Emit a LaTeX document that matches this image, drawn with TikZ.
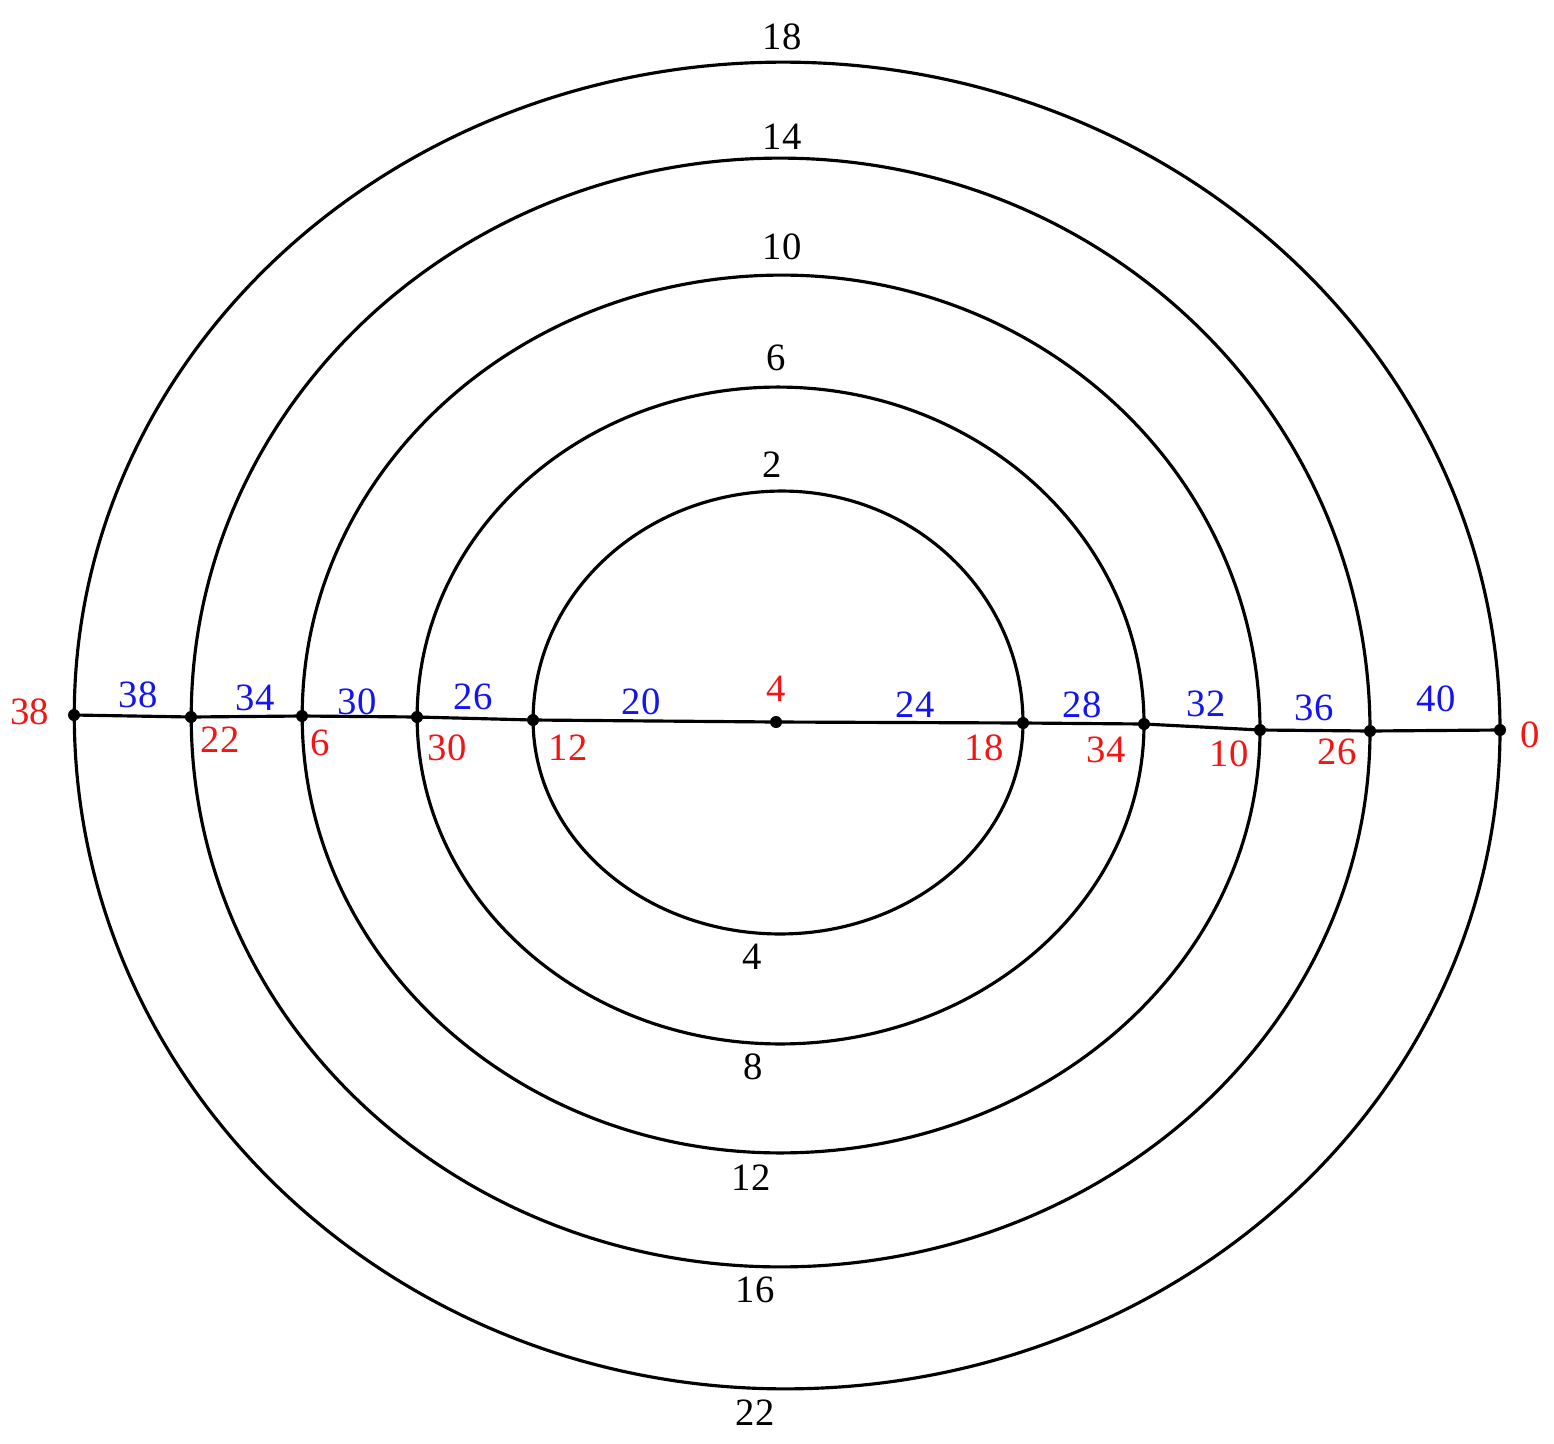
\documentclass[tikz,border=0pt]{standalone}
\usepackage{fontspec}
\setmainfont{Liberation Serif}
\definecolor{lblblue}{RGB}{20,20,240}
\definecolor{lblred}{RGB}{245,20,20}
\begin{document}
\begin{tikzpicture}[x=0.02cm,y=-0.02cm,
  ring/.style={line width=1.8pt},
  axisline/.style={line width=1.8pt},
  dotmark/.style={circle,fill=black,inner sep=0pt,minimum size=0.24cm},
  lbl/.style={inner sep=0pt,font=\fontsize{22}{26}\selectfont},
  blk/.style={lbl,text=black},
  blu/.style={lbl,text=lblblue},
  rd/.style={lbl,text=lblred}]
\useasboundingbox (0,0) rectangle (1554,1443);
% points on the axis
\coordinate (P1) at (74,715);
\coordinate (P2) at (191,717);
\coordinate (P3) at (302,716);
\coordinate (P4) at (417,717);
\coordinate (P5) at (533,720);
\coordinate (C)  at (776,722);
\coordinate (Q1) at (1023,723);
\coordinate (Q2) at (1144,724);
\coordinate (Q3) at (1260,730);
\coordinate (Q4) at (1370,731);
\coordinate (Q5) at (1500,730);
% rings (quarter arcs through right, top, left, bottom points)
\draw[ring] (Q1) arc[start angle=0,end angle=90,x radius=4.82cm,y radius=4.64cm]
  arc[start angle=90,end angle=180,x radius=4.98cm,y radius=4.58cm]
  arc[start angle=180,end angle=270,x radius=4.94cm,y radius=4.28cm]
  arc[start angle=270,end angle=360,x radius=4.86cm,y radius=4.22cm];
\draw[ring] (Q2) arc[start angle=0,end angle=90,x radius=7.32cm,y radius=6.74cm]
  arc[start angle=90,end angle=180,x radius=7.22cm,y radius=6.60cm]
  arc[start angle=180,end angle=270,x radius=7.26cm,y radius=6.54cm]
  arc[start angle=270,end angle=360,x radius=7.28cm,y radius=6.40cm];
\draw[ring] (Q3) arc[start angle=0,end angle=90,x radius=9.56cm,y radius=9.10cm]
  arc[start angle=90,end angle=180,x radius=9.60cm,y radius=8.82cm]
  arc[start angle=180,end angle=270,x radius=9.56cm,y radius=8.74cm]
  arc[start angle=270,end angle=360,x radius=9.60cm,y radius=8.46cm];
\draw[ring] (Q4) arc[start angle=0,end angle=90,x radius=11.80cm,y radius=11.46cm]
  arc[start angle=90,end angle=180,x radius=11.78cm,y radius=11.18cm]
  arc[start angle=180,end angle=270,x radius=11.78cm,y radius=11.00cm]
  arc[start angle=270,end angle=360,x radius=11.80cm,y radius=10.72cm];
\draw[ring] (Q5) arc[start angle=0,end angle=90,x radius=14.34cm,y radius=13.36cm]
  arc[start angle=90,end angle=180,x radius=14.18cm,y radius=13.06cm]
  arc[start angle=180,end angle=270,x radius=14.22cm,y radius=13.48cm]
  arc[start angle=270,end angle=360,x radius=14.30cm,y radius=13.18cm];
% axis
\draw[axisline] (P1) -- (P2) -- (P3) -- (P4) -- (P5) -- (C) -- (Q1) -- (Q2) -- (Q3) -- (Q4) -- (Q5);
\foreach \p in {P1,P2,P3,P4,P5,C,Q1,Q2,Q3,Q4,Q5} \node[dotmark] at (\p) {};
% black labels
\node[blk] (t18) at (782,37) {18};
\node[blk] (t14) at (782,137) {14};
\node[blk] (t10) at (782,247) {10};
\node[blk] (t6)  at (776,358) {6};
\node[blk] (t2)  at (772,465) {2};
\node[blk] (b4)  at (752,957) {4};
\node[blk] (b8)  at (753,1067) {8};
\node[blk] (b12) at (751,1178) {12};
\node[blk] (b16) at (755,1290) {16};
\node[blk] (b22) at (755,1413) {22};
% blue labels
\node[blu] (u38) at (138,695) {38};
\node[blu] (u34) at (255,698) {34};
\node[blu] (u30) at (357,702) {30};
\node[blu] (u26) at (473,697) {26};
\node[blu] (u20) at (641,702) {20};
\node[blu] (u24) at (915,705) {24};
\node[blu] (u28) at (1082,705) {28};
\node[blu] (u32) at (1206,704) {32};
\node[blu] (u36) at (1314,708) {36};
\node[blu] (u40) at (1436,699) {40};
% red labels
\node[rd] (r38) at (30,712) {38};
\node[rd] (r22) at (220,740) {22};
\node[rd] (r6)  at (320,743) {6};
\node[rd] (r30) at (447,748) {30};
\node[rd] (r12) at (568,748) {12};
\node[rd] (r4)  at (776,689) {4};
\node[rd] (r18) at (984,748) {18};
\node[rd] (r34) at (1106,750) {34};
\node[rd] (r10) at (1229,754) {10};
\node[rd] (r26) at (1337,752) {26};
\node[rd] (r0)  at (1530,735) {0};
\end{tikzpicture}
\end{document}
